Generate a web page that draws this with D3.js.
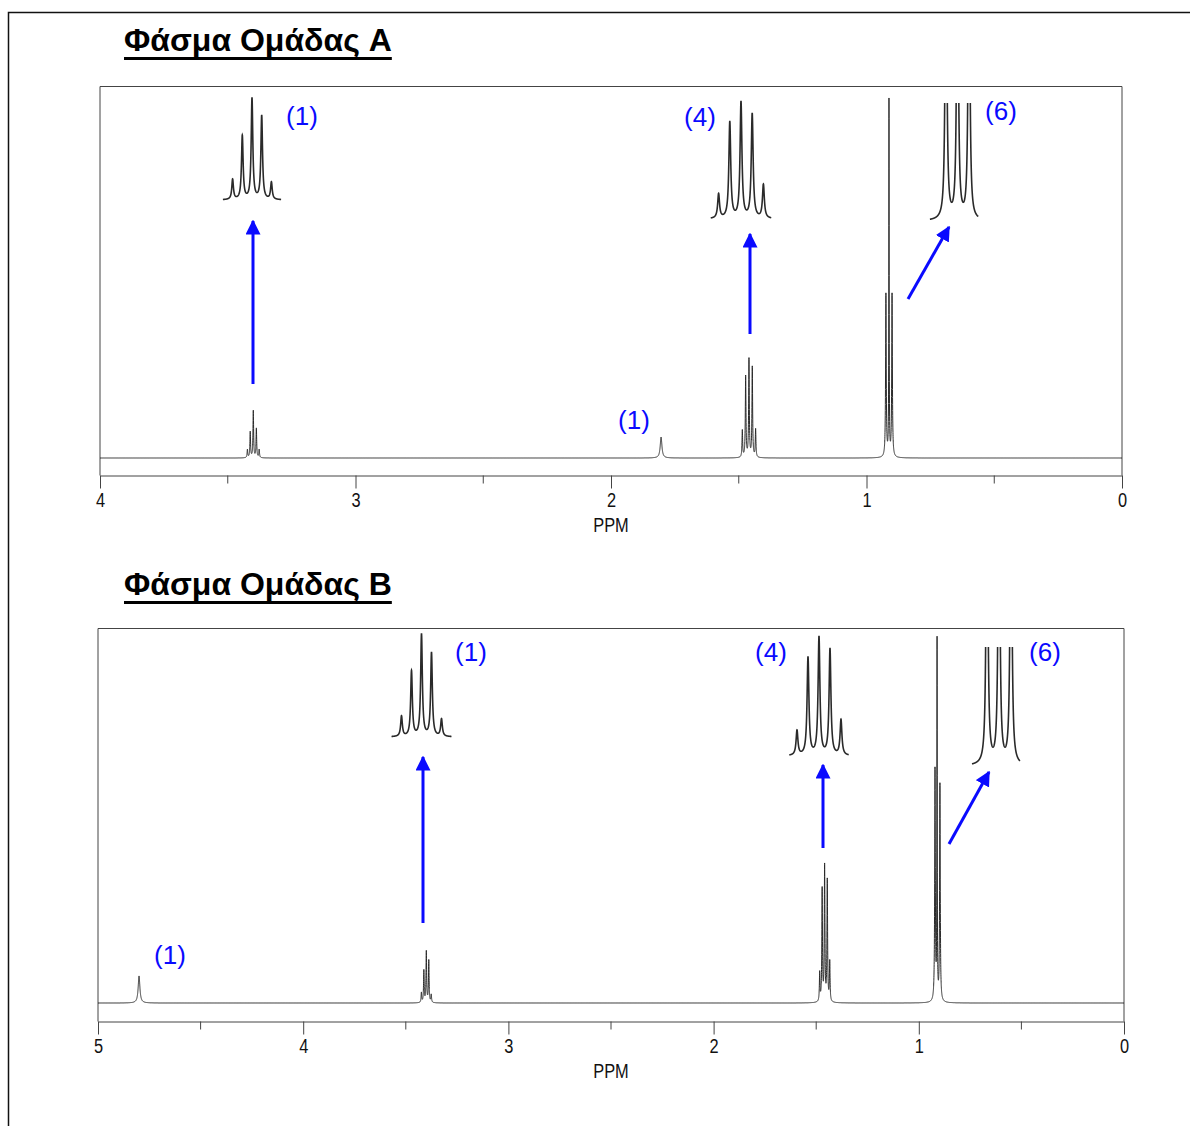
<!DOCTYPE html>
<html>
<head>
<meta charset="utf-8">
<script src="https://cdn.jsdelivr.net/npm/d3@7"></script>
<style>
  body { margin: 0; background: #fff; }
  svg { display: block; }
</style>
</head>
<body>
<div id="chart"></div>
<script>
// ---- data ----
const titles = ["Φάσμα Ομάδας A", "Φάσμα Ομάδας B"];
const axisLabel = "PPM";
const ticksA = [4, 3, 2, 1, 0];
const ticksB = [5, 4, 3, 2, 1, 0];

// main spectrum peaks (ppm, relative height, half width in ppm)
const peakPpmA    = [3.423, 3.412, 3.400, 3.388, 3.377, 1.804, 1.486, 1.473, 1.460, 1.447, 1.434, 0.924, 0.912, 0.900];
const peakHeightA = [2.3, 7.3, 13.2, 8.2, 2.3, 5.9, 7.6, 22.8, 27.6, 25.4, 7.9, 45.9, 100, 45.9];
const peakWidthA  = [0.0015, 0.0015, 0.0015, 0.0015, 0.0015, 0.004, 0.0015, 0.0015, 0.0015, 0.0015, 0.0015, 0.0015, 0.0008, 0.0015];

const peakPpmB    = [4.800, 3.424, 3.412, 3.400, 3.388, 3.376, 1.483, 1.471, 1.459, 1.446, 1.434, 0.921, 0.911, 0.897];
const peakHeightB = [7.6, 2.8, 9.0, 14.3, 11.8, 2.2, 8.1, 31.5, 37.9, 34.0, 11.2, 65, 100, 61];
const peakWidthB  = [0.005, 0.0018, 0.0018, 0.0018, 0.0018, 0.0018, 0.0018, 0.0018, 0.0018, 0.0018, 0.0018, 0.0018, 0.001, 0.0018];

// zoomed multiplets (line offset, relative height)
const quintetOffsets = [-2, -1, 0, 1, 2];
const tripletOffsets = [-1, 0, 1];
const insetA1Heights = [0.20, 0.63, 1, 0.83, 0.17];
const insetA4Heights = [0.21, 0.83, 1, 0.90, 0.29];
const insetA6Heights = [3, 3, 3];
const insetB1Heights = [0.20, 0.64, 1, 0.82, 0.17];
const insetB4Heights = [0.21, 0.83, 1, 0.90, 0.30];
const insetB6Heights = [3, 3, 3];

const multLabels = ["(1)", "(4)", "(6)", "(1)"];

// ---- layout ----
const W = 1190, H = 1126;
const blue = "#0a0aff";
const ink = "#2a2a2a";
const narrow = 0.78;   // squeeze for the condensed axis font

const svg = d3.select("#chart").append("svg")
    .attr("width", W)
    .attr("height", H);

const defs = svg.append("defs");
defs.append("marker")
    .attr("id", "head")
    .attr("viewBox", "0 0 10 10")
    .attr("refX", 9).attr("refY", 5)
    .attr("markerWidth", 5).attr("markerHeight", 5)
    .attr("markerUnits", "strokeWidth")
    .attr("orient", "auto")
  .append("path")
    .attr("d", "M0,0 L10,5 L0,10 Z")
    .attr("fill", blue);

// outer frame
svg.append("path")
    .attr("d", `M8.5,${H} L8.5,12.5 L${W},12.5`)
    .attr("fill", "none")
    .attr("stroke", "#111")
    .attr("stroke-width", 1.5);

function lorentz(ppm, pos, hts, wid) {
  let s = 0;
  for (let i = 0; i < pos.length; i++) {
    const d = (ppm - pos[i]) / wid[i];
    s += hts[i] / (1 + d * d);
  }
  return s;
}

function panel(p) {
  const g = svg.append("g");
  const x = d3.scaleLinear().domain([p.ticks[0], 0]).range([p.left, p.right]);
  const y = d3.scaleLinear().domain([0, 100]).range([p.base, p.top100]);

  // title
  const t = g.append("text")
      .attr("x", 124).attr("y", p.titleY)
      .attr("font-family", "Liberation Sans, Arial, sans-serif")
      .attr("font-weight", "bold")
      .attr("font-size", 32)
      .attr("fill", "#000")
      .text(p.title);
  const tw = t.node().getComputedTextLength();
  g.append("line")
      .attr("x1", 124).attr("x2", 124 + tw)
      .attr("y1", p.titleY + 7.5).attr("y2", p.titleY + 7.5)
      .attr("stroke", "#000").attr("stroke-width", 3);

  // frame
  g.append("path")
      .attr("d", `M${p.left},${p.axisY} L${p.left},${p.boxTop} L${p.right},${p.boxTop} L${p.right},${p.axisY}`)
      .attr("fill", "none").attr("stroke", "#444").attr("stroke-width", 1);

  // axis
  const ax = g.append("g")
      .attr("transform", `translate(0,${p.axisY})`)
      .call(d3.axisBottom(x).tickValues(p.ticks).tickSize(13).tickSizeOuter(0).tickFormat(d3.format("d")));
  ax.select(".domain").attr("stroke", "#444");
  ax.selectAll(".tick line").attr("stroke", "#444");
  ax.selectAll(".tick text")
      .attr("font-family", "Liberation Sans, Arial, sans-serif")
      .attr("font-size", 21)
      .attr("fill", "#111")
      .attr("dy", 0)
      .attr("y", 32)
      .attr("transform", `scale(${narrow},1)`);
  const minor = d3.range(p.ticks[0] - 0.5, 0, -1);
  g.append("g").selectAll("line").data(minor).join("line")
      .attr("x1", d => x(d)).attr("x2", d => x(d))
      .attr("y1", p.axisY).attr("y2", p.axisY + 8)
      .attr("stroke", "#444");
  const mid = (p.left + p.right) / 2;
  g.append("text")
      .attr("transform", `translate(${mid},${p.axisY + 56}) scale(${narrow},1)`)
      .attr("text-anchor", "middle")
      .attr("font-family", "Liberation Sans, Arial, sans-serif")
      .attr("font-size", 21)
      .attr("fill", "#111")
      .text(axisLabel);

  // spectrum
  const pts = d3.range(p.ticks[0], -0.0001, -0.0002);
  const line = d3.line()
      .x(d => x(d))
      .y(d => y(lorentz(d, p.pos, p.hts, p.wid)));
  g.append("path")
      .datum(pts)
      .attr("d", line)
      .attr("fill", "none")
      .attr("stroke", ink)
      .attr("stroke-width", 1);

  // insets
  p.insets.forEach((ins, k) => {
    const ix = d3.scaleLinear().domain([-1, 1]).range([ins.cx - ins.unit, ins.cx + ins.unit]);
    const iy = d3.scaleLinear().domain([0, 1]).range([ins.base, ins.base - ins.h]);
    const id = `clip-${p.id}-${k}`;
    defs.append("clipPath").attr("id", id)
      .append("rect")
        .attr("x", ix(ins.from) - 2).attr("y", ins.base - ins.h)
        .attr("width", ix(ins.to) - ix(ins.from) + 4).attr("height", ins.h + 4);
    const wid = ins.offsets.map(() => ins.gamma);
    const il = d3.line()
        .x(d => ix(d))
        .y(d => iy(lorentz(d, ins.offsets, ins.heights, wid)));
    g.append("path")
        .datum(d3.range(ins.from, ins.to + 0.001, 0.005))
        .attr("d", il)
        .attr("clip-path", ins.clip ? `url(#${id})` : null)
        .attr("fill", "none")
        .attr("stroke", ink)
        .attr("stroke-width", 1.6);
  });

  // arrows
  p.arrows.forEach(a => {
    g.append("line")
        .attr("x1", a[0]).attr("y1", a[1])
        .attr("x2", a[2]).attr("y2", a[3])
        .attr("stroke", blue).attr("stroke-width", 3)
        .attr("marker-end", "url(#head)");
  });

  // labels
  p.labels.forEach((l, i) => {
    g.append("text")
        .attr("x", l[0]).attr("y", l[1])
        .attr("text-anchor", "middle")
        .attr("dominant-baseline", "central")
        .attr("font-family", "Liberation Sans, Arial, sans-serif")
        .attr("font-size", 26)
        .attr("fill", blue)
        .text(multLabels[i]);
  });
}

panel({
  id: "A", title: titles[0], titleY: 51,
  ticks: ticksA, left: 100, right: 1122, boxTop: 86.5, axisY: 475.5,
  base: 458, top100: 103,
  pos: peakPpmA, hts: peakHeightA, wid: peakWidthA,
  insets: [
    {cx: 252, unit: 9.7, base: 200, h: 101, offsets: quintetOffsets, heights: insetA1Heights, gamma: 0.1, from: -3, to: 3},
    {cx: 741, unit: 11.2, base: 219, h: 116, offsets: quintetOffsets, heights: insetA4Heights, gamma: 0.1, from: -2.7, to: 2.7},
    {cx: 957.5, unit: 11.5, base: 221, h: 118, offsets: tripletOffsets, heights: insetA6Heights, gamma: 0.08, from: -2.4, to: 1.8, clip: true}
  ],
  arrows: [[253, 384, 253, 221], [750, 334, 750, 234], [908, 299, 949, 227]],
  labels: [[302, 116], [700, 117], [1001, 111], [634, 420]]
});

panel({
  id: "B", title: titles[1], titleY: 595,
  ticks: ticksB, left: 98, right: 1124, boxTop: 628.5, axisY: 1021.5,
  base: 1003, top100: 647,
  pos: peakPpmB, hts: peakHeightB, wid: peakWidthB,
  insets: [
    {cx: 421.5, unit: 10, base: 737, h: 102, offsets: quintetOffsets, heights: insetB1Heights, gamma: 0.1, from: -3, to: 3},
    {cx: 819, unit: 11, base: 756, h: 118, offsets: quintetOffsets, heights: insetB4Heights, gamma: 0.1, from: -2.7, to: 2.7},
    {cx: 999, unit: 12, base: 766, h: 119, offsets: tripletOffsets, heights: insetB6Heights, gamma: 0.08, from: -2.25, to: 1.75, clip: true}
  ],
  arrows: [[423, 923, 423, 757], [823, 848, 823, 765], [949, 844, 989, 772]],
  labels: [[471, 652], [771, 652], [1045, 652], [170, 955]]
});
</script>
</body>
</html>
